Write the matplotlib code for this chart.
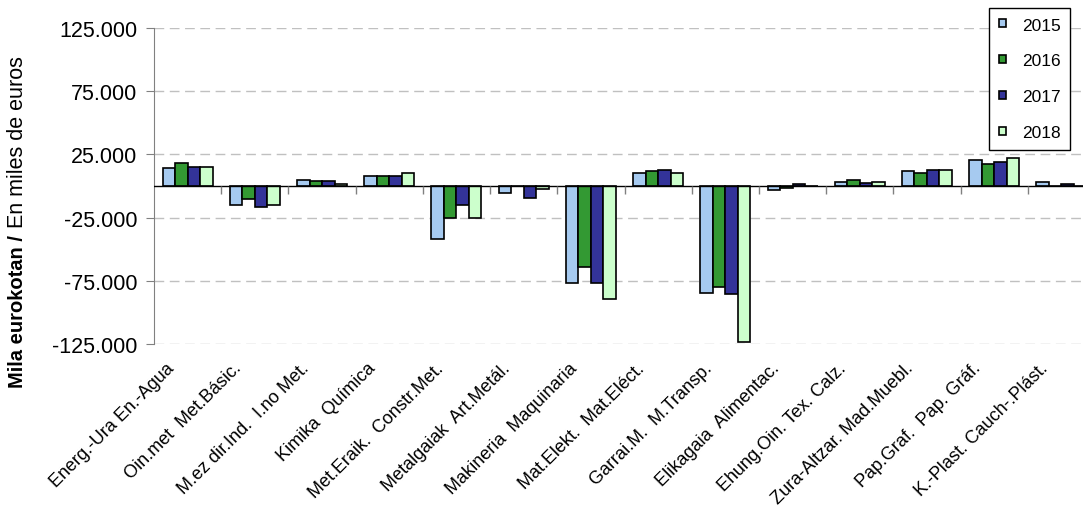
import numpy as np
import matplotlib
matplotlib.use("Agg")
import matplotlib.pyplot as plt
import matplotlib.transforms as mtransforms
from matplotlib.ticker import FuncFormatter

plt.rcParams['font.family'] = ['Liberation Sans', 'DejaVu Sans']

# datos (miles de euros)
sectores = [
    "Energ.-Ura En.-Agua", "Oin.met  Met.Básic.", "M.ez dir.Ind.  I.no Met.",
    "Kimika  Química", "Met.Eraik.  Constr.Met.", "Metalgaiak  Art.Metál.",
    "Makineria  Maquinaria", "Mat.Elekt.  Mat.Eléct.", "Garrai.M.  M.Transp.",
    "Elikagaia  Alimentac.", "Ehung.Oin. Tex. Calz.", "Zura-Altzar. Mad.Muebl.",
    "Pap.Graf.  Pap. Gráf.", "K.-Plast. Cauch-.Plást.",
]
years = ["2015", "2016", "2017", "2018"]
y2015 = [14000, -15400, 5000, 8000, -42000, -5300, -76500, 10400, -84300, -3200, 3200, 11700, 20500, 3000]
y2016 = [18000, -10100, 3700, 8000, -25500, 0, -63800, 11700, -80300, -1500, 4500, 10400, 17800, 0]
y2017 = [15400, -16700, 3700, 8000, -15400, -9300, -76500, 12800, -85600, 1800, 2700, 12800, 19100, 1200]
y2018 = [15400, -15400, 1800, 10600, -25500, -2500, -89300, 10400, -123600, 0, 3200, 12800, 21800, 0]
yticks = [125000, 75000, 25000, -25000, -75000, -125000]

colors = ["#a6caf0", "#339933", "#333399", "#ccffcc"]

W, H = 1083, 510
fig = plt.figure(figsize=(W / 100, H / 100), dpi=100)
ax = fig.add_axes([154 / W, (H - 345) / H, (1095 - 154) / W, 316 / H])

x = np.arange(len(sectores))
bw = 0.186
for i, (vals, lab) in enumerate(zip([y2015, y2016, y2017, y2018], years)):
    ax.bar(x + (i - 1.5) * bw, vals, bw, color=colors[i], edgecolor="black",
           linewidth=1.2, label=lab, zorder=3)

ax.set_xlim(-0.5, len(sectores) - 0.5)
ax.set_ylim(-125000, 125000)
ax.set_yticks(yticks)
ax.yaxis.set_major_formatter(FuncFormatter(lambda v, p: f"{int(v):,}".replace(",", ".")))
ax.yaxis.grid(True, color="#c0c0c0", linestyle=(0, (7, 4)), linewidth=1, zorder=0)
ax.tick_params(axis="y", direction="out", length=6, color="#808080", labelsize=15.5, pad=6)

for s in ["top", "right", "bottom"]:
    ax.spines[s].set_visible(False)
ax.spines["left"].set_color("#808080")

# eje de categorías en cero
ax.axhline(0, color="black", linewidth=1, zorder=4)
ax.plot(np.arange(len(sectores)) + 0.5, np.zeros(len(sectores)), linestyle="none",
        marker=3, markersize=6, markeredgewidth=1, color="#808080", zorder=4, clip_on=False)

ax.set_xticks(x)
ax.set_xticklabels(sectores, rotation=45, ha="right", rotation_mode="anchor", fontsize=13)
ax.tick_params(axis="x", length=0, pad=11)
off = mtransforms.ScaledTranslation(-22 / 100, 0, fig.dpi_scale_trans)
for t in ax.get_xticklabels():
    t.set_transform(t.get_transform() + off)

fig.text(18 / W, (H - 388) / H, "Mila eurokotan /", rotation=90, ha="center", va="bottom",
         fontsize=14.5, fontweight="bold")
fig.text(18 / W, (H - 228) / H, "En miles de euros", rotation=90, ha="center", va="bottom",
         fontsize=15.5)

leg = fig.legend(loc="upper right", bbox_to_anchor=(1070 / W, (H - 9) / H), borderaxespad=0,
                 handlelength=0.42, handleheight=0.3, handletextpad=0.9,
                 labelspacing=1.2, borderpad=0.55, fancybox=False, framealpha=1,
                 edgecolor="black", prop={"size": 12.5})
leg.get_frame().set_linewidth(1)

fig.savefig("out.png", dpi=100)
